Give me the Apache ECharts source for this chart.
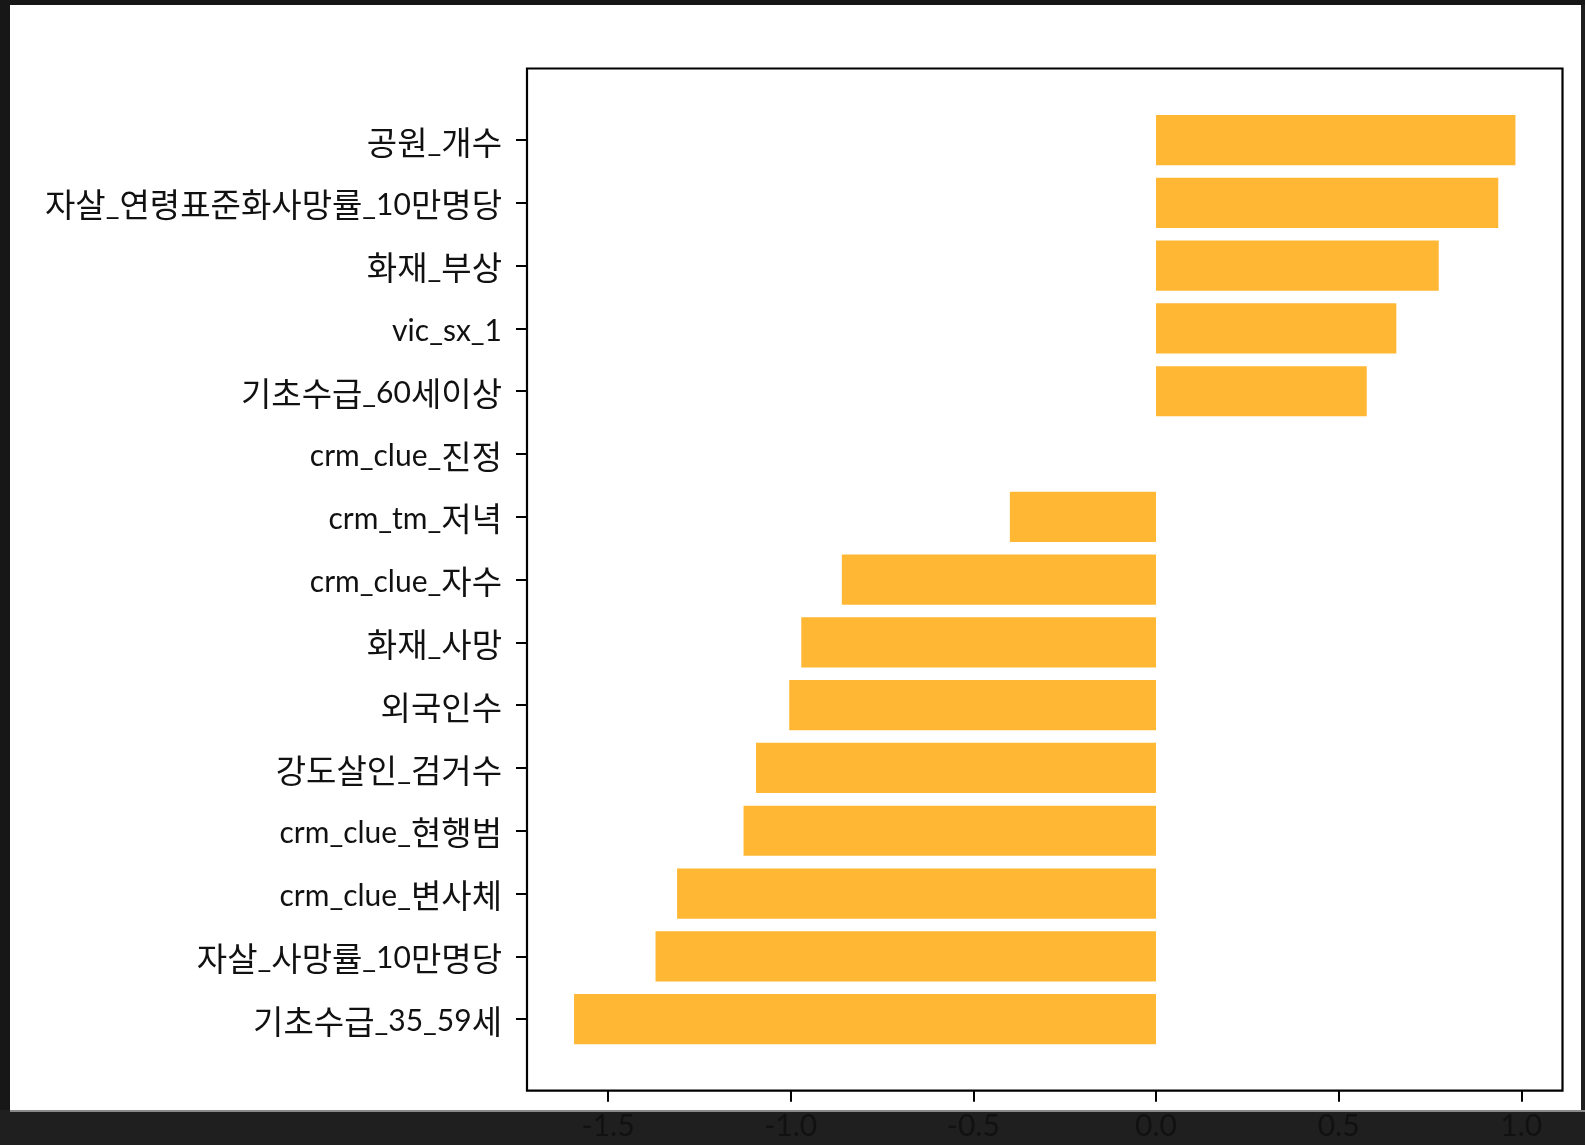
<!DOCTYPE html>
<html>
<head>
<meta charset="utf-8">
<script src="https://cdn.jsdelivr.net/npm/echarts@6/dist/echarts.min.js"></script>
<style>
  html, body { margin: 0; padding: 0; width: 1585px; height: 1145px; background: #1f1f1f; overflow: hidden; }
  #topbar { position: absolute; left: 0; top: 0; width: 1585px; height: 5px; background: #161616; }
  #leftbar { position: absolute; left: 0; top: 0; width: 10px; height: 1110px; background: #171717; }
  #panel { position: absolute; left: 10px; top: 5px; width: 1571px; height: 1105px; background: #ffffff; }
  #rule { position: absolute; left: 10px; top: 1110px; width: 1575px; height: 2px; background: #8a8a8a; }
  #chart { position: absolute; left: 0; top: 0; width: 1585px; height: 1145px; }
</style>
</head>
<body>
<div id="topbar"></div>
<div id="leftbar"></div>
<div id="panel"></div>
<div id="rule"></div>
<div id="chart"></div>
<script>
// Feature names, top to bottom
const categories = [
  '공원_개수',
  '자살_연령표준화사망률_10만명당',
  '화재_부상',
  'vic_sx_1',
  '기초수급_60세이상',
  'crm_clue_진정',
  'crm_tm_저녁',
  'crm_clue_자수',
  '화재_사망',
  '외국인수',
  '강도살인_검거수',
  'crm_clue_현행범',
  'crm_clue_변사체',
  '자살_사망률_10만명당',
  '기초수급_35_59세'
];

// Coefficient per feature
const values = [0.984, 0.937, 0.774, 0.658, 0.577, 0.0, -0.400, -0.860, -0.971, -1.004, -1.095, -1.129, -1.311, -1.370, -1.593];

// Tick positions on the value axis
const xTicks = [-1.5, -1.0, -0.5, 0.0, 0.5, 1.0];

// Value-axis limits with a 5% margin around the data (including zero)
const dMin = Math.min(0, ...values);
const dMax = Math.max(0, ...values);
const pad = 0.05 * (dMax - dMin);
const xMin = dMin - pad;
const xMax = dMax + pad;

const FONT_KR = "'Noto Sans CJK KR', 'Noto Sans', sans-serif";
const FONT_LAT = "Lato, 'Noto Sans', sans-serif";

// Hangul runs and Latin runs use separate faces/sizes for balanced label widths
function richLabel(text) {
  const runs = text.match(/[\uAC00-\uD7A3]+|[^\uAC00-\uD7A3]+/g) || [];
  return runs.map(r => (/[\uAC00-\uD7A3]/.test(r) ? '{h|' : '{l|') + r + '}').join('');
}

const chart = echarts.init(document.getElementById('chart'), null, { renderer: 'canvas' });

chart.setOption({
  backgroundColor: 'transparent',
  animation: false,
  grid: [
    // outer frame with the value axis
    { left: 527, right: 22.5, top: 68.5, bottom: 54.3, show: true, borderColor: '#000', borderWidth: 2.2, backgroundColor: 'transparent', containLabel: false },
    // inner band area for the bars
    { left: 527, right: 22.5, top: 108.7, bottom: 94.5, containLabel: false }
  ],
  xAxis: [
    {
      gridIndex: 0, type: 'value', min: xMin, max: xMax,
      axisLine: { show: false },
      splitLine: { show: false },
      axisTick: { show: true, length: 11, lineStyle: { color: '#000', width: 2 }, customValues: xTicks },
      axisLabel: {
        show: true, margin: 21, color: '#111111', fontSize: 30, fontFamily: FONT_LAT,
        customValues: xTicks,
        formatter: v => v.toFixed(1)
      }
    },
    {
      gridIndex: 1, type: 'value', min: xMin, max: xMax, show: false,
      splitLine: { show: false }
    }
  ],
  yAxis: [
    {
      gridIndex: 0, type: 'value', min: 0, max: 1, show: false
    },
    {
      gridIndex: 1, type: 'category', data: categories, inverse: true,
      position: 'left',
      axisLine: { show: false, onZero: false },
      axisTick: { show: true, alignWithLabel: true, length: 11, lineStyle: { color: '#000', width: 2 } },
      axisLabel: {
        margin: 25, color: '#111111', fontFamily: FONT_KR, interval: 0,
        padding: [4, 0, 0, 0],
        formatter: richLabel,
        rich: {
          h: { fontSize: 33, fontFamily: FONT_KR, color: '#111111', lineHeight: 40, verticalAlign: 'middle' },
          l: { fontSize: 30, fontFamily: FONT_LAT, color: '#111111', lineHeight: 40, verticalAlign: 'middle', padding: [1, 0, 0, 0] }
        }
      },
      splitLine: { show: false }
    }
  ],
  series: [
    {
      type: 'bar',
      xAxisIndex: 1, yAxisIndex: 1,
      data: values,
      barWidth: '80%',
      itemStyle: { color: '#ffb734' }
    }
  ]
});
</script>
</body>
</html>
